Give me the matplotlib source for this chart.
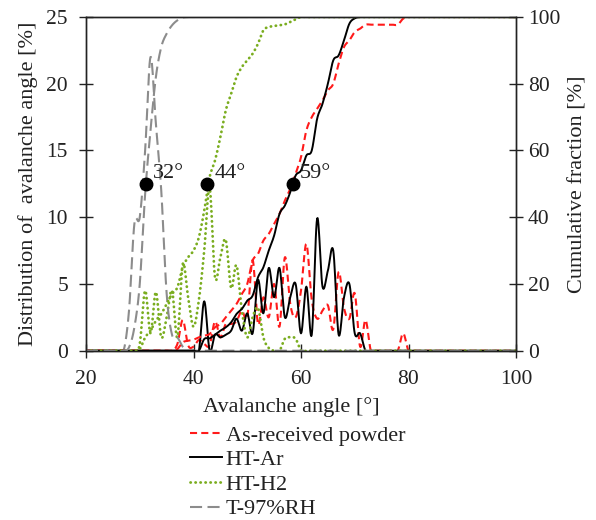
import numpy as np
import matplotlib
matplotlib.use("Agg")
import matplotlib.pyplot as plt
from matplotlib.lines import Line2D

plt.rcParams['font.family'] = ['Liberation Serif', 'DejaVu Serif']

# ---- data (1 degree bins, 20..100) ----
angle = list(range(20, 101))

dist_asrec = [0]*17 + [0.5, 2.3, 0.4, 0.3, 0.8, 0.5, 0.4, 2.2, 1.0, 2.0, 2.0, 2.2, 3.0, 2.5,
              6.8, 2.0, 4.0, 2.5, 5.0, 1.8, 7.0, 3.5, 2.5, 4.5, 8.0, 3.8, 2.4, 3.0, 3.4,
              1.6, 5.9, 3.2, 2.4, 4.3, 0.3, 2.3, 0, 0, 0, 0, 0, 0, 1.3, 0] + [0]*20
cum_asrec = [0]*17 + [0.5, 2.5, 3, 3.3, 4, 4.5, 5, 7, 8, 10, 12, 14, 17, 20,
             27, 29, 33, 35, 38, 41, 45, 48.5, 53, 58, 66, 70, 72.5, 75, 78,
             80, 86, 91, 93, 95.5, 96.5, 97.7, 97.7, 97.7, 97.7, 97.7, 97.7, 97.7, 99.5, 100] + [100]*20

dist_ar = [0]*22 + [3.7, 0, 1.2, 1.0, 1.2, 1.5, 2.4, 1.5, 2.8, 1.3, 5.3, 2.8, 6.2, 4.0,
           6.2, 2.5, 4.0, 5.0, 1.3, 4.8, 1.2, 9.9, 4.8, 6.0, 7.5, 1.2, 4.0, 5.0, 1.3,
           1.3, 0] + [0]*28
cum_ar = [0]*22 + [3.5, 3.7, 4.8, 6, 7, 8.5, 11, 12.5, 15, 16.5, 22, 25, 30, 34.5,
          41, 43.5, 47.5, 52.5, 54, 58.5, 60, 69.5, 74, 80, 87, 88.5, 93, 98, 99.6,
          100, 100] + [100]*28

dist_h2 = [0]*10 + [0.5, 4.5, 1.3, 4.4, 1.0, 2.5, 4.5, 1.0, 6.5, 4.0, 1.8, 3.8, 7.5, 12.2,
          5.5, 7.0, 8.3, 4.7, 6.4, 3.0, 1.0, 2.5, 3.2, 1.0, 0.2, 0, 0, 0.9, 1.0, 0.9,
          0] + [0]*40
cum_h2 = [0]*10 + [0.5, 4, 6, 9, 11, 14, 17, 19, 25, 28, 30, 34, 42, 52,
         57, 64, 72, 77, 82, 85, 87, 89, 92, 96, 97, 97.3, 97.5, 97.8, 98.5, 99.3,
         100] + [100]*40

dist_rh = [0]*8 + [3, 9.5, 10, 15, 22, 17, 12, 4.3, 1.2, 1.0, 0.3, 0] + [0]*61
cum_rh = [0]*8 + [1, 7, 20, 47, 66, 82, 91, 95, 97.5, 99, 99.8, 100] + [100]*61

series_labels = ['As-received powder', 'HT-Ar', 'HT-H2', 'T-97%RH']
median_angle = [31.1, 42.6, 58.5]
median_cum = [50, 50, 50]
median_text = ['32°', '44°', '59°']


def smooth(x, y, n=12):
    x = np.asarray(x, float)
    y = np.asarray(y, float)
    P = np.column_stack([x, y])
    P = np.vstack([P[0], P, P[-1]])
    out = []
    t = np.linspace(0, 1, n, endpoint=False)
    for i in range(1, len(P) - 2):
        p0, p1, p2, p3 = P[i-1], P[i], P[i+1], P[i+2]
        tt = t[:, None]
        pts = 0.5 * ((2*p1) + (-p0 + p2)*tt + (2*p0 - 5*p1 + 4*p2 - p3)*tt**2
                     + (-p0 + 3*p1 - 3*p2 + p3)*tt**3)
        out.append(pts)
    out.append(P[-2][None, :])
    out = np.vstack(out)
    return out[:, 0], out[:, 1]


fig = plt.figure(figsize=(5.96, 5.20), dpi=100)
ax = fig.add_axes([86/596, 1-350.7/520, 430/596, (350.7-17)/520])
ax2 = ax.twinx()

red = '#ff1a1a'
green = '#7aad1f'
gray = '#8c8c8c'

styles = [
    dict(color=red, lw=1.5, dashes=(3.4, 2.0)),
    dict(color='black', lw=1.4),
    dict(color=green, lw=2.0, dashes=(0.1, 1.7), dash_capstyle='round'),
    dict(color=gray, lw=1.5, dashes=(5.8, 2.6)),
]
dists = [dist_asrec, dist_ar, dist_h2, dist_rh]
cums = [cum_asrec, cum_ar, cum_h2, cum_rh]

for d, st in zip(dists, styles):
    sx, sy = smooth(angle, d)
    ax.plot(sx, sy, **st)
for c, st in zip(cums, styles):
    sx, sy = smooth(angle, c)
    ax2.plot(sx, sy, **st)

ax2.plot(median_angle, median_cum, 'o', color='black', ms=9, zorder=5)
for xa, ya, tx in zip(median_angle, median_cum, median_text):
    ax2.text(xa + 1.3, ya + 0.3, tx, fontsize=16, va='bottom', ha='left', color='#222222')

ax.set_xlim(20, 100)
ax.set_ylim(0, 25)
ax2.set_ylim(0, 100)
ax.set_xticks([20, 40, 60, 80, 100])
ax.set_yticks([0, 5, 10, 15, 20, 25])
ax2.set_yticks([0, 20, 40, 60, 80, 100])

for a in (ax, ax2):
    a.tick_params(direction='inout', length=10, width=1, labelsize=15.5, colors='#222222')
    for s in a.spines.values():
        s.set_linewidth(1)
        s.set_color('#222222')
ax.tick_params(axis='x', pad=9)
ax.tick_params(axis='y', pad=8)

ax.set_xlabel('Avalanche angle [°]', fontsize=16, labelpad=4, color='#222222')
ax.set_ylabel('Distribution of  avalanche angle [%]', fontsize=16, labelpad=6, color='#222222')
ax2.set_ylabel('Cumulative fraction [%]', fontsize=16, labelpad=6, color='#222222')
ax.xaxis.set_label_coords(0.478, -0.14)

handles = [Line2D([0], [0], **st) for st in styles]
leg = fig.legend(handles, series_labels, loc='upper left',
                 bbox_to_anchor=(179/596, 1-414/520), frameon=False, fontsize=16,
                 handlelength=1.45, handletextpad=0.15, labelspacing=0.18, borderpad=0)
for t in leg.get_texts():
    t.set_color('#222222')

fig.savefig('out.png', dpi=100)
